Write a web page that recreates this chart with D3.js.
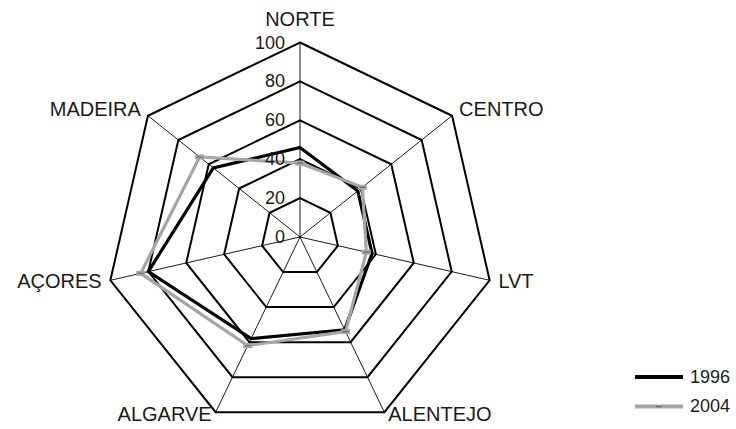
<!DOCTYPE html>
<html><head><meta charset="utf-8">
<script src="https://cdn.jsdelivr.net/npm/d3@7"></script>
<style>
body{margin:0;background:#fff;}
svg{display:block;font-family:"Liberation Sans",Arial,sans-serif;}
</style></head>
<body><svg id="c" width="736" height="429"></svg>
<script>
const categories = ["NORTE","CENTRO","LVT","ALENTEJO","ALGARVE","AÇORES","MADEIRA"];
const values1996 = [46, 38, 38, 53, 58, 80, 57];
const values2004 = [38, 41, 35, 54, 62, 84, 66];
const seriesNames = ["1996","2004"];
const tickValues = [0, 20, 40, 60, 80, 100];

const svg = d3.select("#c");
const cx = 300, cy = 237, R = 194.5;
const r = d3.scaleLinear().domain([0,100]).range([0,R]);
const ang = d3.scaleLinear().domain([0, categories.length]).range([0, 2*Math.PI]);
const pt = (i, v) => [cx + r(v)*Math.sin(ang(i)), cy - r(v)*Math.cos(ang(i))];

const g = svg.append("g");
// spokes
categories.forEach((c,i)=>{
  const [x,y] = pt(i,100);
  g.append("line").attr("x1",cx).attr("y1",cy).attr("x2",x).attr("y2",y)
   .attr("stroke","#000").attr("stroke-width",0.9);
});
// level polygons
tickValues.filter(t=>t>0).forEach(t=>{
  const pts = categories.map((c,i)=>pt(i,t));
  g.append("polygon").attr("points", pts.map(p=>p.join(",")).join(" "))
   .attr("fill","none").attr("stroke","#000").attr("stroke-width",2);
});
// series
const line = d3.line().curve(d3.curveLinearClosed);
const series = [
  {name: seriesNames[0], vals: values1996, color:"#000", w:3.2},
  {name: seriesNames[1], vals: values2004, color:"#a6a6a6", w:3.2}
];
series.forEach(s=>{
  g.append("path").attr("d", line(s.vals.map((v,i)=>pt(i,v))))
   .attr("fill","none").attr("stroke",s.color).attr("stroke-width",s.w).attr("stroke-linejoin","miter");
});
// markers for 2004
values2004.forEach((v,i)=>{
  const [x,y] = pt(i,v);
  g.append("rect").attr("x",x-4.5).attr("y",y-2.5).attr("width",9).attr("height",5).attr("fill","#a6a6a6");
  g.append("line").attr("x1",x-3).attr("x2",x+3).attr("y1",y).attr("y2",y).attr("stroke","#6d6d6d").attr("stroke-width",1.3);
});
// tick labels
tickValues.forEach(t=>{
  g.append("text").attr("x",cx-15).attr("y",cy - r(t) + 6)
   .attr("text-anchor","end").attr("font-size",18).attr("fill","#1a1a1a").text(t);
});
// category labels
categories.forEach((c,i)=>{
  const a = ang(i), s = Math.sin(a), co = Math.cos(a);
  const x = cx + (R+9)*s, y = cy - (R+9)*co;
  const anchor = Math.abs(s) < 0.01 ? "middle" : (s > 0 ? "start" : "end");
  const dy = co > 0.9 ? -8 : (co < -0.8 ? 1 : 6);
  g.append("text").attr("x",x).attr("y",y+dy).attr("text-anchor",anchor)
   .attr("font-size",20).attr("fill","#1a1a1a").text(c);
});
// legend
series.forEach((s,k)=>{
  const y = 377 + k*29.5;
  svg.append("line").attr("x1",635).attr("x2",683).attr("y1",y).attr("y2",y)
   .attr("stroke",s.color).attr("stroke-width",s.w+0.6);
  if (k===1){
    svg.append("line").attr("x1",656).attr("x2",662).attr("y1",y).attr("y2",y).attr("stroke","#6d6d6d").attr("stroke-width",1.3);
  }
  svg.append("text").attr("x",690).attr("y",y+5.5).attr("font-size",18).attr("fill","#1a1a1a").text(s.name);
});
</script></body></html>
